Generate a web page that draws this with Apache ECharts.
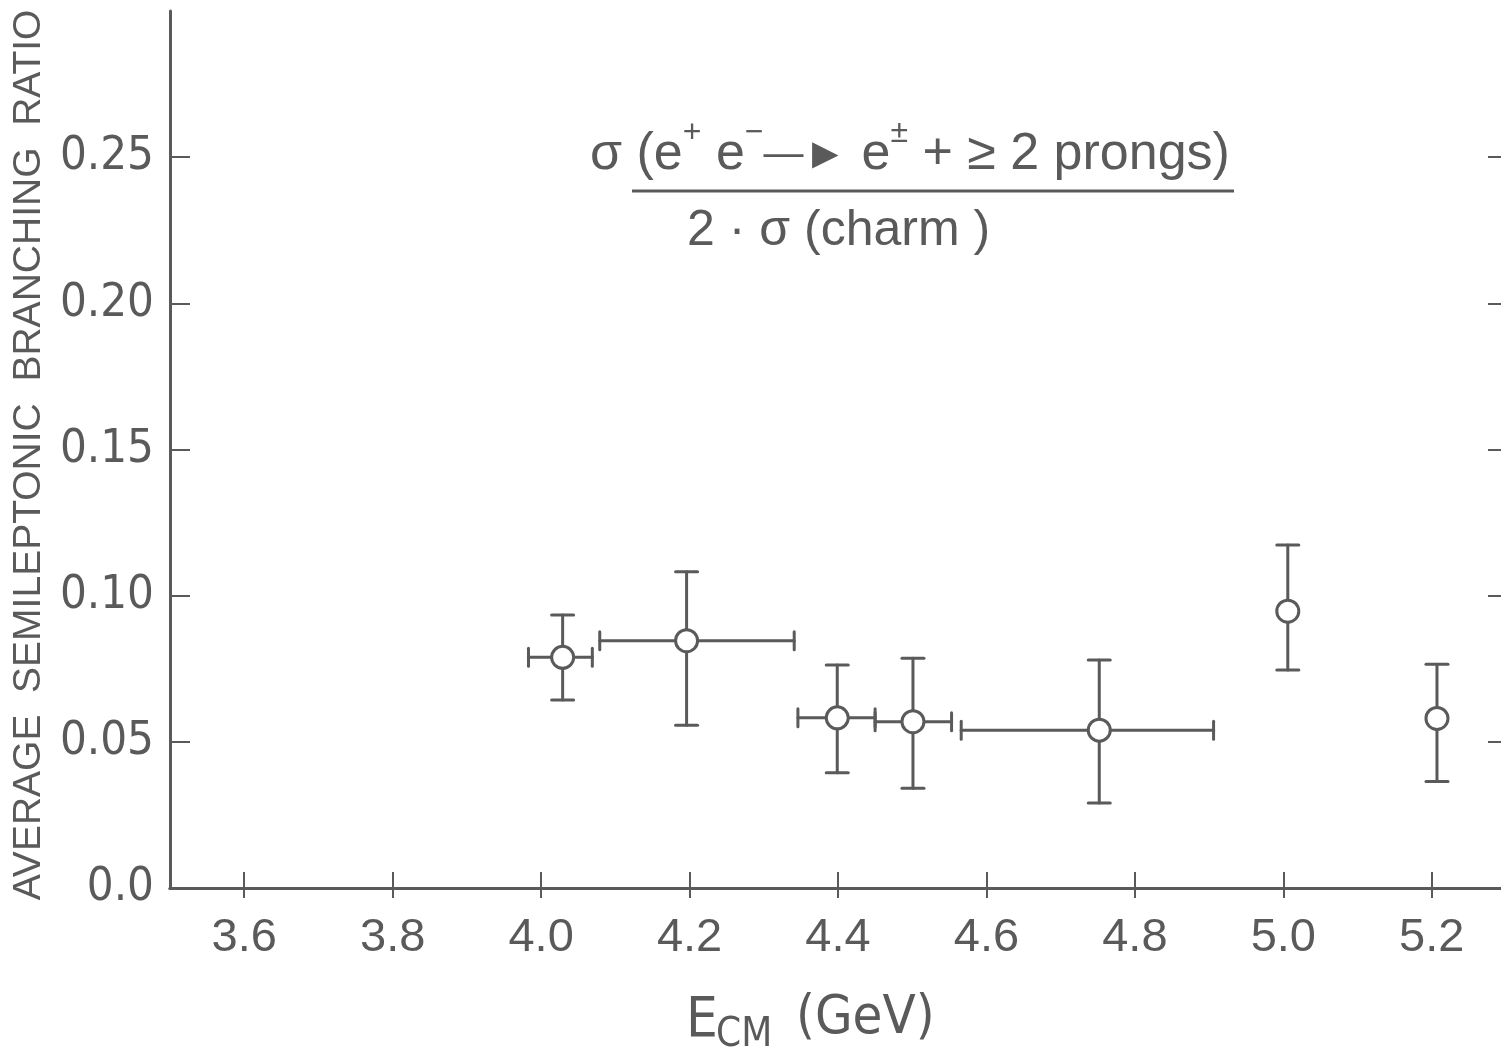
<!DOCTYPE html>
<html>
<head>
<meta charset="utf-8">
<script src="https://cdn.jsdelivr.net/npm/echarts@6/dist/echarts.min.js"></script>
<style>
html,body{margin:0;padding:0;background:#fff;}
#chart{width:1501px;height:1052px;}
</style>
</head>
<body>
<div id="chart"></div>
<script>
// ---- data ----
const ecm       = [4.029, 4.196, 4.399, 4.501, 4.752, 5.006, 5.207];
const ratio     = [0.0789, 0.0846, 0.0582, 0.0569, 0.0540, 0.0947, 0.0580];
const ecmLow    = [3.983, 4.079, 4.346, 4.450, 4.566, null, null];
const ecmHigh   = [4.069, 4.341, 4.450, 4.553, 4.906, null, null];
const ratioLow  = [0.0643, 0.0557, 0.0394, 0.0341, 0.0291, 0.0746, 0.0364];
const ratioHigh = [0.0934, 0.1082, 0.0763, 0.0786, 0.0780, 0.1173, 0.0765];
const xTicks    = [3.6, 3.8, 4.0, 4.2, 4.4, 4.6, 4.8, 5.0, 5.2];
const yTicks    = [0.05, 0.10, 0.15, 0.20, 0.25];
const yLabelsAll = [0.0, 0.05, 0.10, 0.15, 0.20, 0.25];

const INK = '#5a5a5a';
const FONT = '"Liberation Sans", Arial, sans-serif';
const NARROW = '"Liberation Sans Narrow", "DejaVu Sans Condensed", "Liberation Sans", sans-serif';

const chart = echarts.init(document.getElementById('chart'), null, {renderer: 'canvas'});

function errRender(params, api) {
  const i = params.dataIndex;
  const c = api.coord([ecm[i], ratio[i]]);
  const children = [];
  const st = {stroke: INK, lineWidth: 3, lineCap: 'round'};
  const pT = api.coord([ecm[i], ratioHigh[i]]);
  const pB = api.coord([ecm[i], ratioLow[i]]);
  const capW = 11;
  children.push({type: 'line', shape: {x1: c[0], y1: pT[1], x2: c[0], y2: pB[1]}, style: st});
  children.push({type: 'line', shape: {x1: c[0] - capW, y1: pT[1], x2: c[0] + capW, y2: pT[1]}, style: st});
  children.push({type: 'line', shape: {x1: c[0] - capW, y1: pB[1], x2: c[0] + capW, y2: pB[1]}, style: st});
  if (ecmLow[i] != null) {
    const pL = api.coord([ecmLow[i], ratio[i]]);
    const pR = api.coord([ecmHigh[i], ratio[i]]);
    const capH = 9;
    children.push({type: 'line', shape: {x1: pL[0], y1: c[1], x2: pR[0], y2: c[1]}, style: st});
    children.push({type: 'line', shape: {x1: pL[0], y1: c[1] - capH, x2: pL[0], y2: c[1] + capH}, style: st});
    children.push({type: 'line', shape: {x1: pR[0], y1: c[1] - capH, x2: pR[0], y2: c[1] + capH}, style: st});
  }
  return {type: 'group', children: children};
}

const numRich = {
  m: {fontSize: 52, lineHeight: 64, verticalAlign: 'bottom', fontFamily: FONT, fill: INK, color: INK},
  s: {fontSize: 32, lineHeight: 32, verticalAlign: 'top', fontFamily: FONT, fill: INK, color: INK},
  d: {fontSize: 40, lineHeight: 64, verticalAlign: 'top', padding: [18, 0, 0, 0], fontFamily: FONT, fill: INK, color: INK},
  h: {fontSize: 44, lineHeight: 64, verticalAlign: 'top', padding: [17, 0, 0, 0], fontFamily: FONT, fill: INK, color: INK}
};

const option = {
  animation: false,
  backgroundColor: '#ffffff',
  grid: {left: 170, right: -5, top: 11, bottom: 164, containLabel: false, outerBoundsMode: 'none'},
  xAxis: [{
    type: 'value', min: 3.5, max: 5.3, position: 'bottom',
    axisLine: {show: true, lineStyle: {color: INK, width: 3}},
    axisTick: {show: true, inside: true, length: 16, customValues: xTicks, lineStyle: {color: INK, width: 2}},
    axisLabel: {show: true, customValues: xTicks, margin: 27, fontSize: 47, fontFamily: FONT, color: INK,
      formatter: v => v.toFixed(1)},
    splitLine: {show: false}
  }, {
    type: 'value', min: 3.5, max: 5.3, position: 'top',
    axisLine: {show: true, lineStyle: {color: INK, width: 3}},
    axisTick: {show: true, inside: true, length: 10, customValues: xTicks, lineStyle: {color: INK, width: 2}},
    axisLabel: {show: false},
    splitLine: {show: false}
  }],
  yAxis: [{
    type: 'value', min: 0, max: 0.3, position: 'left',
    name: 'AVERAGE  SEMILEPTONIC  BRANCHING  RATIO ',
    nameLocation: 'middle', nameRotate: 90, nameGap: 120,
    nameTextStyle: {fontSize: 39, fontFamily: FONT, color: INK},
    axisLine: {show: true, lineStyle: {color: INK, width: 3}},
    axisTick: {show: true, inside: true, length: 20, customValues: yTicks, lineStyle: {color: INK, width: 2}},
    axisLabel: {show: true, customValues: yLabelsAll, margin: 16, fontSize: 47, fontFamily: NARROW, color: INK,
      formatter: v => (v === 0 ? '0.0' : v.toFixed(2))},
    splitLine: {show: false}
  }, {
    type: 'value', min: 0, max: 0.3, position: 'right',
    axisLine: {show: true, lineStyle: {color: INK, width: 3}},
    axisTick: {show: true, inside: true, length: 18, customValues: yTicks, lineStyle: {color: INK, width: 2}},
    axisLabel: {show: false},
    splitLine: {show: false}
  }],
  series: [{
    type: 'custom',
    renderItem: errRender,
    data: ecm.map((x, i) => [x, ratio[i]]),
    encode: {x: 0, y: 1},
    z: 2
  }, {
    type: 'scatter',
    data: ecm.map((x, i) => [x, ratio[i]]),
    symbol: 'circle', symbolSize: 22,
    itemStyle: {color: '#ffffff', borderColor: INK, borderWidth: 3, opacity: 1},
    z: 3
  }],
  graphic: [
    {type: 'text', x: 590, y: 149, z: 10,
      style: {
        text: '{m|σ (e}{s|+}{m| e}{s|−}{d|—}{h|►}{m| e}{s|±}{m| + ≥ 2 prongs)}',
        rich: numRich, fill: INK, align: 'left', verticalAlign: 'middle'
      }},
    {type: 'line', x: 0, y: 0, z: 10, shape: {x1: 632, y1: 191, x2: 1234, y2: 191},
      style: {stroke: INK, lineWidth: 3}},
    {type: 'text', x: 687, y: 231, z: 10,
      style: {text: '2 · σ (charm )', fontSize: 50, fontFamily: FONT, fill: INK, align: 'left', verticalAlign: 'middle'}},
    {type: 'text', x: 686, y: 1021, z: 10,
      style: {text: 'E', fontSize: 56, fontFamily: NARROW, fill: INK, align: 'left', verticalAlign: 'middle'}},
    {type: 'text', x: 716, y: 1036, z: 10,
      style: {text: 'CM', fontSize: 40, fontFamily: NARROW, fill: INK, align: 'left', verticalAlign: 'middle'}},
    {type: 'text', x: 796, y: 1019, z: 10,
      style: {text: '(GeV)', fontSize: 54, fontFamily: NARROW, fill: INK, align: 'left', verticalAlign: 'middle'}}
  ]
};
chart.setOption(option);
</script>
</body>
</html>
